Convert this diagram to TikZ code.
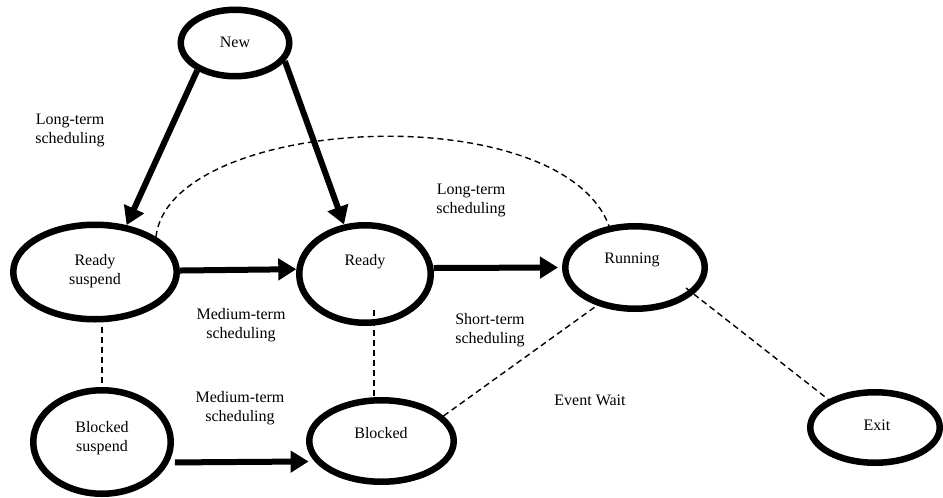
\documentclass[tikz,border=0pt]{standalone}
\usepackage{fontspec}
\setmainfont{Liberation Serif}
\usetikzlibrary{shapes.geometric,arrows.meta}
\begin{document}
\begin{tikzpicture}[x=1pt,y=-1pt,
  state/.style={ellipse,draw,line width=6.5pt,inner sep=0pt},
  lbl/.style={font=\fontsize{16}{19}\selectfont,align=center,inner sep=0pt},
  flow/.style={line width=6pt,-{Triangle[length=18pt,width=21pt]}},
  link/.style={line width=1.4pt,dash pattern=on 6pt off 4pt}]
\useasboundingbox (0,0) rectangle (943,498);

% process states
\node[state,minimum width=108.5pt,minimum height=66.5pt] (new)     at (235,43)    {};
\node[state,minimum width=163.5pt,minimum height=94.5pt] (rs)      at (95,272)    {};
\node[state,minimum width=131.5pt,minimum height=97.5pt] (ready)   at (365,274)   {};
\node[state,minimum width=139.5pt,minimum height=82.5pt] (running) at (635,267.5) {};
\node[state,minimum width=129.5pt,minimum height=70.5pt] (exit)    at (875,427.5) {};
\node[state,minimum width=137.5pt,minimum height=103.5pt] (bs)     at (102,442)   {};
\node[state,minimum width=144.5pt,minimum height=81.5pt] (blocked) at (381.5,441) {};

% state names
\node[lbl] (newtxt)     at (235,42)  {New};
\node[lbl] (rstxt)      at (95,271)  {Ready\\suspend};
\node[lbl] (readytxt)   at (365,262) {Ready};
\node[lbl] (runtxt)     at (632,260) {Running};
\node[lbl] (exittxt)    at (877,425) {Exit};
\node[lbl] (bstxt)      at (102,438) {Blocked\\suspend};
\node[lbl] (blockedtxt) at (381,433) {Blocked};

% transition labels
\node[lbl] (lt1) at (70,130)  {Long-term\\scheduling};
\node[lbl] (lt2) at (471,200) {Long-term\\scheduling};
\node[lbl] (mt1) at (241,325) {Medium-term\\scheduling};
\node[lbl] (mt2) at (240,408) {Medium-term\\scheduling};
\node[lbl] (st)  at (490,330) {Short-term\\scheduling};
\node[lbl] (ew)  at (590,400) {Event Wait};

% transitions
\draw[flow] (new.216) -- (rs.56);
\draw[flow] (new.340) -- (ready.113);
\draw[flow] (rs.1.3) -- (ready.176.5);
\draw[flow,shorten >=4pt] (ready.5.5) -- (running.180);
\draw[flow,shorten >=6pt] ([xshift=6pt]bs.-17.7) -- (blocked.197);

% dashed relations
\coordinate (rdin) at (374,310);
\coordinate (runin) at (686,288);
\draw[link] (rs.30) .. controls (170,115) and (560,95) .. (running.122);
\draw[link,shorten <=4pt] (bs.north |- rs.south) -- (bs.north);
\draw[link] (rdin) -- (rdin |- blocked.north);
\draw[link] (blocked.22.3) -- (running.225.4);
\draw[link] (runin) -- (exit.149);
\end{tikzpicture}
\end{document}
